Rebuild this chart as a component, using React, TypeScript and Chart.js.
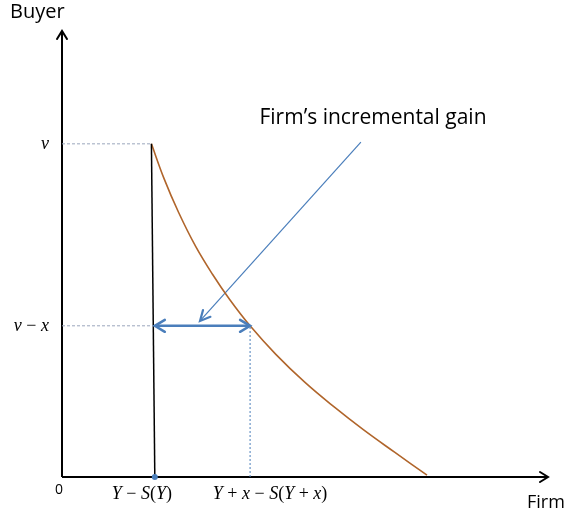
import React, { useEffect, useRef } from "react";
import { Chart, registerables } from "chart.js";

Chart.register(...registerables);

// ---- data (abstract units) ----
const curveX = [1.84, 2.1, 2.4, 2.75, 3.1, 3.45, 3.87, 4.4, 5.0, 5.6, 6.2, 6.85, 7.51];
const curveY = [7.47, 6.69, 5.93, 5.17, 4.54, 3.98, 3.39, 2.75, 2.12, 1.57, 1.06, 0.55, 0.04];

const V = 7.47; // buyer value v
const V_MINUS_X = 3.39; // v - x
const X_YS = 1.91; // Y - S(Y)
const X_YS_TOP = 1.84;
const X_YXS = 3.87; // Y + x - S(Y + x)

const annotFrom = [6.15, 7.51];
const annotTo = [2.84, 3.5];
const annotText = "Firm\u2019s incremental gain";
const annotPos = [6.42, 8.05];

const xTickValues = [0, X_YS, X_YXS];
const xTickLabels = ["0", "Y \u2212 S(Y)", "Y + x \u2212 S(Y + x)"];
const yTickValues = [V, V_MINUS_X];
const yTickLabels = ["v", "v \u2212 x"];

const xAxisTitle = "Firm";
const yAxisTitle = "Buyer";

const BLUE = "#4A7EBB";
const BROWN = "#B0652B";
const GREY_DASH = "#9AA6BC";

function drawMath(ctx: CanvasRenderingContext2D, text: string, x: number, y: number, align: "left" | "center" | "right", size: number) {
  const parts: { t: string; it: boolean }[] = [];
  for (const ch of text) {
    const it = /[A-Za-z]/.test(ch);
    const last = parts[parts.length - 1];
    if (last && last.it === it) last.t += ch;
    else parts.push({ t: ch, it });
  }
  const fontI = `italic ${size}px "Liberation Serif"`;
  const fontN = `${size}px "Liberation Serif"`;
  let total = 0;
  for (const p of parts) {
    ctx.font = p.it ? fontI : fontN;
    total += ctx.measureText(p.t).width;
  }
  let cx = align === "left" ? x : align === "center" ? x - total / 2 : x - total;
  ctx.textAlign = "left";
  ctx.textBaseline = "middle";
  for (const p of parts) {
    ctx.font = p.it ? fontI : fontN;
    ctx.fillText(p.t, cx, y);
    cx += ctx.measureText(p.t).width;
  }
}

function chevron(ctx: CanvasRenderingContext2D, tipX: number, tipY: number, fromX: number, fromY: number, len: number, half: number, width: number, color: string) {
  const dx = tipX - fromX;
  const dy = tipY - fromY;
  const d = Math.hypot(dx, dy);
  const ux = dx / d, uy = dy / d;
  const nx = -uy, ny = ux;
  const bx = tipX - ux * len, by = tipY - uy * len;
  ctx.save();
  ctx.strokeStyle = color;
  ctx.lineWidth = width;
  ctx.lineCap = "round";
  ctx.lineJoin = "miter";
  ctx.beginPath();
  ctx.moveTo(bx + nx * half, by + ny * half);
  ctx.lineTo(tipX, tipY);
  ctx.lineTo(bx - nx * half, by - ny * half);
  ctx.stroke();
  ctx.restore();
}

const decorPlugin = {
  id: "decor",
  afterDatasetsDraw(chart: any) {
    const { ctx, scales } = chart;
    const xs = scales.x, ys = scales.y;
    const px = (v: number) => xs.getPixelForValue(v);
    const py = (v: number) => ys.getPixelForValue(v);
    ctx.save();
    // axis arrowheads
    chevron(ctx, px(0), py(10), px(0), py(0), 8, 5, 2, "#000");
    chevron(ctx, px(10), py(0), px(0), py(0), 8, 5, 2, "#000");
    // double arrow heads
    chevron(ctx, px(X_YS), py(V_MINUS_X), px(X_YXS), py(V_MINUS_X), 10, 6, 2.5, BLUE);
    chevron(ctx, px(X_YXS), py(V_MINUS_X), px(X_YS), py(V_MINUS_X), 10, 6, 2.5, BLUE);
    // annotation arrow head
    chevron(ctx, px(annotTo[0]), py(annotTo[1]), px(annotFrom[0]), py(annotFrom[1]), 10, 5, 2.2, BLUE);
    // dot
    ctx.fillStyle = BLUE;
    ctx.beginPath();
    ctx.arc(px(X_YS), py(0), 3, 0, Math.PI * 2);
    ctx.fill();

    // texts
    ctx.fillStyle = "#000";
    ctx.font = '20px "Open Sans"';
    ctx.textAlign = "left";
    ctx.textBaseline = "alphabetic";
    ctx.fillText(yAxisTitle, 10, 18);
    ctx.font = '18px "Open Sans"';
    ctx.fillText(xAxisTitle, 527, 508);
    ctx.font = '21px "Open Sans"';
    ctx.textAlign = "center";
    ctx.textBaseline = "middle";
    ctx.fillText(annotText, px(annotPos[0]) - 1, py(annotPos[1]));

    // x tick labels
    const xOffsets = [-3, -13, 20];
    xTickValues.forEach((v, i) => {
      const lbl = xTickLabels[i];
      if (lbl === "0") {
        ctx.font = '14px "Open Sans"';
        ctx.textAlign = "center";
        ctx.textBaseline = "middle";
        ctx.fillText(lbl, px(v) + xOffsets[i], py(0) + 13);
      } else {
        drawMath(ctx, lbl, px(v) + xOffsets[i], py(0) + 17, "center", 18);
      }
    });
    yTickValues.forEach((v, i) => {
      drawMath(ctx, yTickLabels[i], 49, py(v), "right", 18);
    });
    ctx.restore();
  },
};

export default function App() {
  const ref = useRef<HTMLCanvasElement | null>(null);
  useEffect(() => {
    if (!ref.current) return;
    const line = (data: { x: number; y: number }[], color: string, width: number, dash: number[] = [], tension = 0) => ({
      type: "line" as const,
      data,
      borderColor: color,
      borderWidth: width,
      borderDash: dash,
      pointRadius: 0,
      showLine: true,
      fill: false,
      tension,
      clip: false as any,
    });
    const chart = new Chart(ref.current, {
      type: "scatter",
      data: {
        datasets: [
          line([{ x: 0, y: V }, { x: X_YS_TOP, y: V }], GREY_DASH, 1, [3, 2]),
          line([{ x: 0, y: V_MINUS_X }, { x: X_YS, y: V_MINUS_X }], GREY_DASH, 1, [3, 2]),
          line([{ x: X_YXS, y: 0 }, { x: X_YXS, y: V_MINUS_X }], BLUE, 1, [2, 2]),
          line([{ x: X_YS_TOP, y: V }, { x: X_YS, y: 0 }], "#000", 1.5),
          line(curveX.map((x, i) => ({ x, y: curveY[i] })), BROWN, 1.6, [], 0.4),
          line([{ x: X_YS, y: V_MINUS_X }, { x: X_YXS, y: V_MINUS_X }], BLUE, 2.5),
          line([{ x: annotFrom[0], y: annotFrom[1] }, { x: annotTo[0], y: annotTo[1] }], BLUE, 1.2),
          line([{ x: 0, y: 0 }, { x: 10, y: 0 }], "#000", 2),
          line([{ x: 0, y: 0 }, { x: 0, y: 10 }], "#000", 2),
        ] as any,
      },
      options: {
        animation: false,
        responsive: true,
        maintainAspectRatio: false,
        layout: { padding: { left: 62, top: 31, right: 21, bottom: 40 } },
        plugins: { legend: { display: false }, tooltip: { enabled: false } },
        scales: {
          x: { type: "linear", min: 0, max: 10, display: false },
          y: { type: "linear", min: 0, max: 10, display: false },
        },
      },
      plugins: [decorPlugin],
    });
    return () => chart.destroy();
  }, []);
  return (
    <div style={{ position: "absolute", left: 0, top: 0, width: 569, height: 517, background: "#fff" }}>
      <canvas ref={ref} />
    </div>
  );
}
